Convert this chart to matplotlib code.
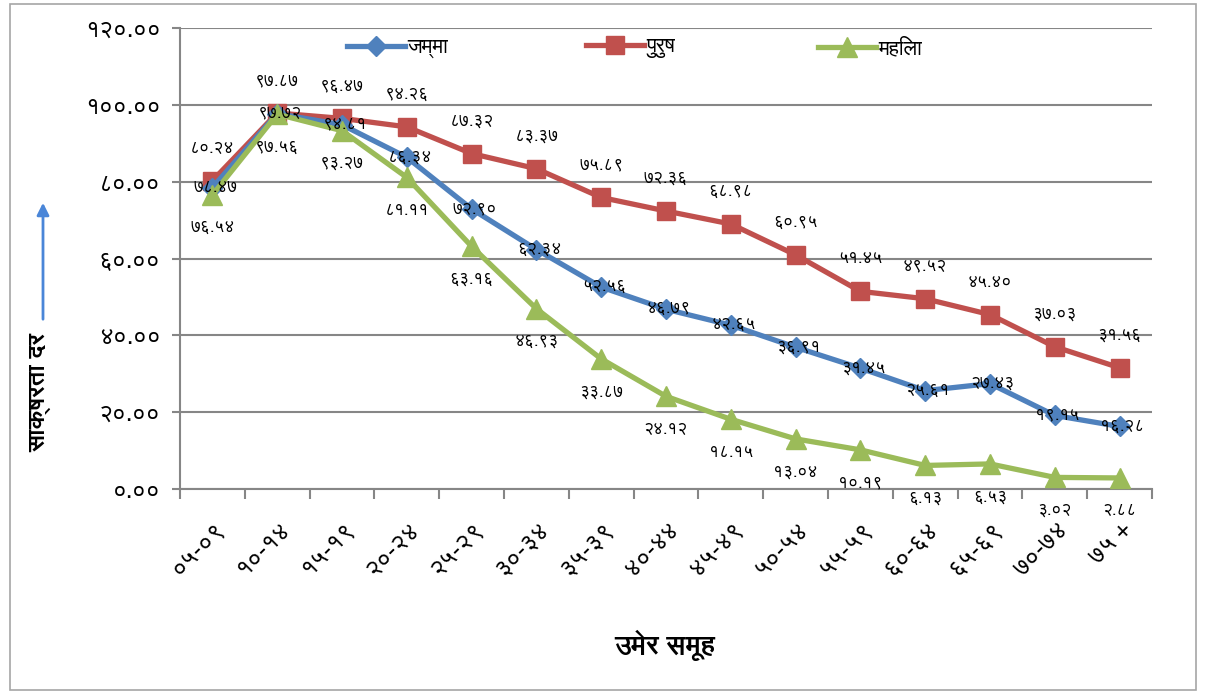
#Literacy rate by age group, Devanagari labels
import matplotlib
matplotlib.use("Agg")
import matplotlib.pyplot as plt
from matplotlib import font_manager
from matplotlib.ft2font import FT2Font
from matplotlib.patches import Rectangle, FancyArrowPatch
from matplotlib.lines import Line2D

age_groups = ["०५-०९", "१०-१४", "१५-१९", "२०-२४", "२५-२९", "३०-३४", "३५-३९", "४०-४४",
              "४५-४९", "५०-५४", "५५-५९", "६०-६४", "६५-६९", "७०-७४", "७५ +"]
total = [78.47, 97.72, 94.81, 86.34, 72.90, 62.34, 52.56, 46.79, 42.65, 36.91, 31.45, 25.61, 27.43, 19.15, 16.28]
male = [80.24, 97.87, 96.47, 94.26, 87.32, 83.37, 75.89, 72.36, 68.98, 60.95, 51.45, 49.52, 45.40, 37.03, 31.56]
female = [76.54, 97.56, 93.27, 81.11, 63.16, 46.93, 33.87, 24.12, 18.15, 13.04, 10.19, 6.13, 6.53, 3.02, 2.88]
y_ticks = [0, 20, 40, 60, 80, 100, 120]

series_names = ["जम्मा", "पुरुष", "महिला"]

# fonts with devanagari glyphs, FreeSans preferred
candidates = []
for f in font_manager.fontManager.ttflist:
    try:
        cmap = FT2Font(f.fname).get_charmap()
    except Exception:
        continue
    if 0x0915 in cmap and 0x0966 in cmap:
        candidates.append(f.name)
deva_font = None
for pref in ["FreeSans", "FreeSerif"]:
    if pref in candidates:
        deva_font = pref
        break
if deva_font is None and candidates:
    deva_font = candidates[0]
families = [deva_font, "DejaVu Sans"] if deva_font else ["DejaVu Sans"]
plt.rcParams['font.family'] = families

digits = str.maketrans("0123456789", "०१२३४५६७८९")
def deva(v):
    return ("%.2f" % v).translate(digits)

fig = plt.figure(figsize=(12.06, 6.96), dpi=100)
ax = fig.add_axes([180/1206, 1-489/696, (1152-180)/1206, (489-28)/696])

x = list(range(len(age_groups)))
ax.plot(x, total, color='#4F81BD', lw=3.8, marker='D', ms=10, zorder=4)
ax.plot(x, male, color='#C0504D', lw=3.8, marker='s', ms=13, zorder=3)
ax.plot(x, female, color='#9BBB59', lw=3.8, marker='^', ms=14, zorder=5)

for i in x:
    ax.annotate(deva(male[i]), (i, male[i]), xytext=(0, 23), textcoords='offset points',
                ha='center', va='center', fontsize=12.5, zorder=6)
    ax.annotate(deva(total[i]), (i, total[i]), xytext=(2, 0), textcoords='offset points',
                ha='center', va='center', fontsize=12.5, zorder=6)
    ax.annotate(deva(female[i]), (i, female[i]), xytext=(0, -24), textcoords='offset points',
                ha='center', va='center', fontsize=12.5, zorder=6, annotation_clip=False)

ax.set_xlim(-0.5, len(age_groups) - 0.5)
ax.set_ylim(0, 120)
ax.set_yticks(y_ticks)
ax.set_yticklabels([deva(v) for v in y_ticks], fontsize=17.5)
ax.set_xticks([i - 0.5 for i in range(len(age_groups) + 1)], minor=False)
ax.set_xticklabels([])
ax.set_xticks(x, minor=True)
ax.set_xticklabels(age_groups, minor=True, rotation=45, ha='right', rotation_mode='anchor', fontsize=18)
ax.tick_params(axis='x', which='minor', length=0, pad=20)
ax.tick_params(axis='x', which='major', length=7, color='#868686', width=1.5)
ax.tick_params(axis='y', length=6, color='#868686', width=1.5, pad=8)

ax.grid(axis='y', color='#868686', lw=1.5)
ax.set_axisbelow(True)
for s in ['top', 'right']:
    ax.spines[s].set_visible(False)
for s in ['left', 'bottom']:
    ax.spines[s].set_color('#868686')
    ax.spines[s].set_linewidth(1.5)

# legend entries placed one by one
leg_x = [347, 586, 818]
styles = [('#4F81BD', 'D', 10), ('#C0504D', 's', 13), ('#9BBB59', '^', 14)]
for lx, name, (c, m, ms) in zip(leg_x, series_names, styles):
    h = Line2D([], [], color=c, lw=3.8, marker=m, ms=ms)
    fig.legend([h], [name], loc='center left', bbox_to_anchor=(lx/1206, 1-48/696),
               frameon=False, fontsize=15, handlelength=2.8, handletextpad=0.1,
               borderpad=0, borderaxespad=0)

fig.text(665/1206, 1-645/696, "उमेर समूह", ha='center', va='center', fontsize=19.5, fontweight='bold')
fig.text(40/1206, 1-392/696, "साक्षरता दर", ha='center', va='center', fontsize=17.5,
         fontweight='bold', rotation=90)
fig.add_artist(FancyArrowPatch((43/1206, 1-322/696), (43/1206, 1-200/696),
               transform=fig.transFigure, arrowstyle='-|>', mutation_scale=18, color='#4A86D8', lw=2))
fig.add_artist(Rectangle((10/1206, 6/696), 1186/1206, 686/696, transform=fig.transFigure,
                         fill=False, edgecolor='#A6A6A6', lw=1.2))

fig.savefig("out.png", dpi=100)
